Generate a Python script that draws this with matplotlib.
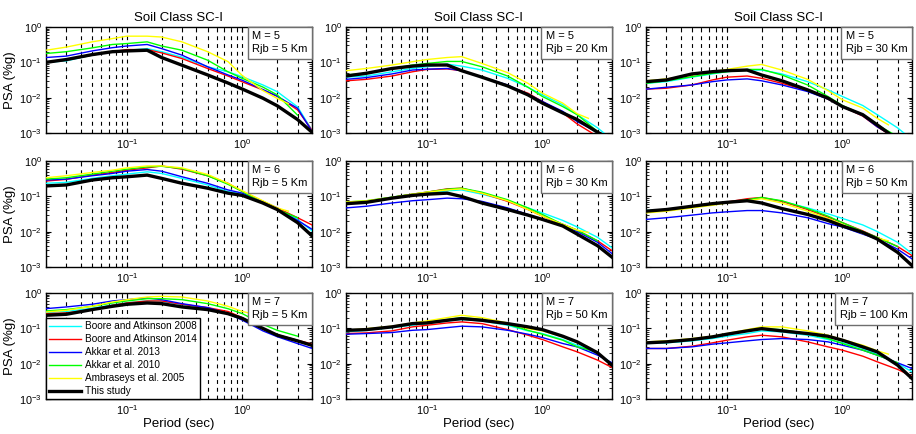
"""
Response spectra comparison: GMPEs vs. this study, soil class SC-I.
"""

import matplotlib
matplotlib.use("Agg")
import matplotlib.pyplot as plt
from matplotlib.offsetbox import AnchoredText
from matplotlib.ticker import LogLocator, NullFormatter
import numpy as np

nan = np.nan

# ── periods (sec) ──
PERIODS = [0.02, 0.03, 0.05, 0.075, 0.1, 0.15, 0.2, 0.3, 0.5, 0.75, 1.0, 1.5, 2.0, 3.0, 4.0]
PERIODS_AMB = [0.02, 0.03, 0.05, 0.075, 0.1, 0.15, 0.2, 0.3, 0.5, 0.75, 1.0, 1.5, 2.0, 2.5]

# ── scenarios (one per panel, row-major) ──
MAGNITUDES = [5, 5, 5, 6, 6, 6, 7, 7, 7]
DISTANCES = [5, 20, 30, 5, 30, 50, 5, 50, 100]

# ── PSA (g) per model, one row per scenario ──
BA08 = [
    [0.10, 0.11, 0.16, 0.20, 0.22, 0.245, 0.20, 0.14, 0.075, 0.054, 0.039, 0.023, 0.0148, 0.0055, 0.0012],
    [0.038, 0.041, 0.054, 0.067, 0.075, 0.089, 0.078, 0.0605, 0.0353, 0.0197, 0.012, 0.0063, 0.0033, 0.0014, 0.00065],
    [0.0255, 0.0284, 0.038, 0.047, 0.0543, 0.0605, 0.0605, 0.047, 0.0284, 0.0166, 0.0108, 0.006, 0.0033, 0.0014, 0.00065],
    [0.234, 0.249, 0.322, 0.382, 0.425, 0.494, 0.444, 0.322, 0.21, 0.137, 0.115, 0.072, 0.047, 0.0222, 0.0105],
    [0.0648, 0.072, 0.093, 0.111, 0.123, 0.143, 0.152, 0.115, 0.075, 0.047, 0.034, 0.0208, 0.0136, 0.0069, 0.0035],
    [0.0396, 0.0423, 0.0524, 0.0608, 0.069, 0.08, 0.089, 0.072, 0.047, 0.032, 0.0237, 0.0155, 0.0101, 0.005, 0.0024],
    [0.28, 0.30, 0.37, 0.46, 0.53, 0.60, 0.58, 0.47, 0.37, 0.27, 0.20, 0.097, 0.066, 0.045, 0.034],
    [0.0793, 0.088, 0.105, 0.122, 0.136, 0.162, 0.177, 0.162, 0.122, 0.0847, 0.0711, 0.0482, 0.0333, 0.0194, 0.0101],
    [0.0372, 0.0388, 0.0442, 0.0514, 0.0598, 0.0711, 0.0847, 0.0793, 0.0638, 0.0482, 0.0388, 0.0269, 0.0186, 0.0101, 0.0059],
]
BA14 = [
    [0.10, 0.115, 0.16, 0.20, 0.23, 0.23, 0.185, 0.128, 0.067, 0.041, 0.028, 0.0166, 0.011, 0.0045, 0.0012],
    [0.030, 0.033, 0.041, 0.054, 0.063, 0.065, 0.058, 0.038, 0.0215, 0.0134, 0.0078, 0.0037, 0.0018, 0.0008, 0.0005],
    [0.0174, 0.0185, 0.0229, 0.0317, 0.038, 0.041, 0.0353, 0.0255, 0.0158, 0.0091, 0.0056, 0.003, 0.0015, 0.00065, 0.0004],
    [0.271, 0.302, 0.399, 0.473, 0.55, 0.638, 0.726, 0.586, 0.382, 0.234, 0.137, 0.072, 0.047, 0.0248, 0.0155],
    [0.0676, 0.072, 0.093, 0.115, 0.131, 0.163, 0.17, 0.123, 0.072, 0.0423, 0.0275, 0.0161, 0.011, 0.0055, 0.0029],
    [0.0364, 0.0396, 0.049, 0.0608, 0.069, 0.0855, 0.093, 0.072, 0.0423, 0.0258, 0.018, 0.0105, 0.0069, 0.0038, 0.0021],
    [0.261, 0.273, 0.339, 0.449, 0.522, 0.595, 0.595, 0.479, 0.386, 0.30, 0.20, 0.095, 0.066, 0.046, 0.036],
    [0.0711, 0.0743, 0.0847, 0.11, 0.122, 0.142, 0.152, 0.136, 0.092, 0.0638, 0.0482, 0.0299, 0.0216, 0.0126, 0.0078],
    [0.0269, 0.0269, 0.0312, 0.0388, 0.0461, 0.0573, 0.0638, 0.0573, 0.0414, 0.0299, 0.0241, 0.0163, 0.0113, 0.0069, 0.0044],
]
AKKAR13 = [
    [0.137, 0.15, 0.21, 0.26, 0.29, 0.32, 0.245, 0.16, 0.075, 0.044, 0.031, 0.017, 0.011, 0.005, 0.0011],
    [0.033, 0.037, 0.047, 0.0605, 0.064, 0.067, 0.058, 0.038, 0.0229, 0.0125, 0.0078, 0.0041, 0.0021, 0.00105, 0.00065],
    [0.0174, 0.0197, 0.0229, 0.0284, 0.0317, 0.034, 0.030, 0.0229, 0.0149, 0.0091, 0.0056, 0.0031, 0.0015, 0.0007, 0.0004],
    [0.289, 0.308, 0.382, 0.444, 0.515, 0.574, 0.515, 0.358, 0.234, 0.152, 0.123, 0.072, 0.0423, 0.0208, 0.0117],
    [0.047, 0.0524, 0.0648, 0.075, 0.080, 0.089, 0.0855, 0.072, 0.047, 0.0307, 0.0222, 0.0145, 0.0101, 0.005, 0.0024],
    [0.0222, 0.0248, 0.0294, 0.034, 0.0364, 0.0396, 0.0396, 0.034, 0.0248, 0.0169, 0.0136, 0.0085, 0.0062, 0.0032, 0.0017],
    [0.361, 0.403, 0.479, 0.595, 0.648, 0.723, 0.648, 0.50, 0.386, 0.26, 0.17, 0.085, 0.058, 0.037, 0.027],
    [0.0681, 0.0711, 0.076, 0.088, 0.092, 0.105, 0.115, 0.11, 0.088, 0.0681, 0.0549, 0.0372, 0.0299, 0.0174, 0.0106],
    [0.0269, 0.0269, 0.0299, 0.0356, 0.0388, 0.0442, 0.0482, 0.0514, 0.0482, 0.0414, 0.0333, 0.0241, 0.0174, 0.0106, 0.0073],
]
AKKAR10 = [
    [0.178, 0.20, 0.256, 0.32, 0.34, 0.38, 0.29, 0.22, 0.115, 0.054, 0.035, 0.02, 0.012, 0.0032, nan],
    [0.044, 0.049, 0.067, 0.084, 0.093, 0.106, 0.106, 0.075, 0.041, 0.0197, 0.0108, 0.0056, 0.0033, 0.0011, nan],
    [0.0255, 0.030, 0.0393, 0.0488, 0.0543, 0.063, 0.063, 0.0438, 0.0229, 0.0108, 0.006, 0.0033, 0.0017, 0.0008, nan],
    [0.308, 0.336, 0.425, 0.515, 0.586, 0.68, 0.71, 0.611, 0.382, 0.219, 0.137, 0.0648, 0.0423, 0.0248, nan],
    [0.069, 0.075, 0.095, 0.115, 0.131, 0.159, 0.17, 0.131, 0.08, 0.047, 0.0307, 0.0161, 0.011, 0.0055, nan],
    [0.0364, 0.0396, 0.049, 0.0582, 0.0676, 0.08, 0.093, 0.075, 0.045, 0.0275, 0.018, 0.0101, 0.0069, 0.0038, nan],
    [0.31, 0.339, 0.42, 0.522, 0.595, 0.692, 0.692, 0.648, 0.50, 0.36, 0.26, 0.13, 0.088, 0.06, nan],
    [0.0847, 0.092, 0.11, 0.13, 0.146, 0.177, 0.201, 0.177, 0.13, 0.088, 0.0681, 0.0461, 0.0299, 0.0216, nan],
    [0.0388, 0.0414, 0.0482, 0.0573, 0.0667, 0.0847, 0.098, 0.092, 0.0711, 0.0514, 0.0372, 0.0241, 0.0174, 0.0106, nan],
]
AMB05 = [
    [0.22, 0.27, 0.38, 0.47, 0.55, 0.55, 0.52, 0.38, 0.20, 0.105, 0.042, 0.016, 0.0095, 0.0068],
    [0.058, 0.067, 0.084, 0.104, 0.12, 0.137, 0.145, 0.093, 0.051, 0.0255, 0.0134, 0.007, 0.0035, 0.0026],
    [0.030, 0.034, 0.0438, 0.0543, 0.063, 0.078, 0.087, 0.0605, 0.033, 0.0158, 0.0087, 0.0051, 0.0026, 0.0017],
    [0.336, 0.382, 0.473, 0.55, 0.638, 0.726, 0.726, 0.638, 0.416, 0.234, 0.143, 0.075, 0.047, 0.038],
    [0.069, 0.075, 0.093, 0.115, 0.131, 0.152, 0.163, 0.123, 0.075, 0.0423, 0.0275, 0.0161, 0.011, 0.0095],
    [0.034, 0.038, 0.047, 0.0558, 0.0648, 0.075, 0.0855, 0.0648, 0.038, 0.0237, 0.0161, 0.0089, 0.0066, 0.0055],
    [0.291, 0.324, 0.42, 0.557, 0.648, 0.771, 0.805, 0.771, 0.595, 0.42, 0.30, 0.22, 0.18, 0.15],
    [0.088, 0.098, 0.115, 0.142, 0.162, 0.201, 0.234, 0.201, 0.142, 0.098, 0.0847, 0.0573, 0.0388, 0.0299],
    [0.0414, 0.0442, 0.0514, 0.0598, 0.0711, 0.092, 0.11, 0.11, 0.0847, 0.0638, 0.0482, 0.0333, 0.0231, 0.0186],
]
THIS_STUDY = [
    [0.10, 0.12, 0.165, 0.20, 0.21, 0.22, 0.137, 0.083, 0.044, 0.026, 0.0175, 0.0097, 0.0059, 0.0024, 0.00105],
    [0.041, 0.049, 0.067, 0.078, 0.084, 0.084, 0.058, 0.038, 0.0215, 0.012, 0.007, 0.0037, 0.0024, 0.00105, 0.00065],
    [0.0284, 0.0317, 0.047, 0.0543, 0.058, 0.0605, 0.0438, 0.030, 0.0166, 0.0097, 0.0056, 0.0033, 0.0017, 0.00065, 0.0004],
    [0.197, 0.21, 0.289, 0.336, 0.358, 0.399, 0.322, 0.234, 0.17, 0.123, 0.106, 0.0648, 0.0423, 0.018, 0.0076],
    [0.062, 0.0676, 0.089, 0.106, 0.115, 0.123, 0.099, 0.0648, 0.0423, 0.0294, 0.0222, 0.0145, 0.0085, 0.004, 0.0019],
    [0.038, 0.0423, 0.0524, 0.062, 0.0676, 0.075, 0.0648, 0.045, 0.0307, 0.0208, 0.0145, 0.0095, 0.0062, 0.0026, 0.0011],
    [0.234, 0.25, 0.339, 0.42, 0.479, 0.522, 0.50, 0.403, 0.339, 0.26, 0.19, 0.10, 0.064, 0.044, 0.033],
    [0.088, 0.092, 0.11, 0.136, 0.142, 0.169, 0.189, 0.169, 0.136, 0.11, 0.092, 0.0598, 0.0414, 0.0203, 0.0091],
    [0.0388, 0.0414, 0.0482, 0.0573, 0.0681, 0.0847, 0.098, 0.0847, 0.0711, 0.0598, 0.0461, 0.0299, 0.0216, 0.0091, 0.0038],
]

MODEL_LABELS = ["Boore and Atkinson 2008", "Boore and Atkinson 2014", "Akkar et al. 2013",
                "Akkar et al. 2010", "Ambraseys et al. 2005", "This study"]

# ── styling ──
plt.rcParams["font.family"] = ["Liberation Sans", "DejaVu Sans"]
plt.rcParams["mathtext.default"] = "regular"

COLORS = ["#00ffff", "#ff0000", "#0000ff", "#00ff00", "#ffff00", "#000000"]
WIDTHS = [1.0, 1.0, 1.0, 1.0, 1.0, 2.4]

W, H = 916, 434
fig = plt.figure(figsize=(W / 100, H / 100), dpi=100)
lefts = [46, 346, 646]
bottoms = [301, 167, 35]
ax_w, ax_h = 266, 106

models = [BA08, BA14, AKKAR13, AKKAR10, AMB05, THIS_STUDY]

for k in range(9):
    r, c = divmod(k, 3)
    ax = fig.add_axes([lefts[c] / W, bottoms[r] / H, ax_w / W, ax_h / H])

    for m, (data, color, lw, label) in enumerate(zip(models, COLORS, WIDTHS, MODEL_LABELS)):
        periods = PERIODS_AMB if data is AMB05 else PERIODS
        ax.loglog(periods, np.array(data[k], dtype=float), color=color, lw=lw,
                  label=label, zorder=3 + m)

    ax.set_xlim(0.02, 4)
    ax.set_ylim(1e-3, 1)
    ax.xaxis.set_minor_locator(LogLocator(base=10, subs=np.arange(2, 10)))
    ax.xaxis.set_minor_formatter(NullFormatter())
    ax.yaxis.set_minor_formatter(NullFormatter())
    ax.set_yticks([1e-3, 1e-2, 1e-1, 1])
    ax.grid(True, which="both", axis="x", color="k", lw=0.8, linestyle=(0, (3.5, 3.5)))
    ax.tick_params(which="both", direction="in", top=True, right=True, labelsize=7.8, pad=3)
    ax.tick_params(which="major", length=3.5, width=0.8)
    ax.tick_params(which="minor", length=2, width=0.6)
    for spine in ax.spines.values():
        spine.set_linewidth(1.0)

    box = AnchoredText(f"M = {MAGNITUDES[k]}\nRjb = {DISTANCES[k]} Km", loc="upper right",
                       borderpad=0, pad=0.4, prop=dict(size=8, linespacing=1.35))
    box.patch.set_edgecolor("#6e6e6e")
    box.patch.set_linewidth(1.0)
    box.zorder = 20
    ax.add_artist(box)

    if r == 0:
        ax.set_title("Soil Class SC-I", fontsize=9.5, pad=4)
    if c == 0:
        ax.set_ylabel("PSA (%g)", fontsize=9.5, labelpad=2)
    if r == 2:
        ax.set_xlabel("Period (sec)", fontsize=9.5, labelpad=1)
    if k == 6:
        leg = ax.legend(loc="lower left", borderaxespad=0, fontsize=7.2, frameon=True,
                        fancybox=False, framealpha=1, edgecolor="k", handlelength=3.2,
                        handletextpad=0.4, labelspacing=0.3, borderpad=0.3)
        leg.get_frame().set_linewidth(1.0)
        leg.set_zorder(30)

fig.savefig("out.png", dpi=100)
